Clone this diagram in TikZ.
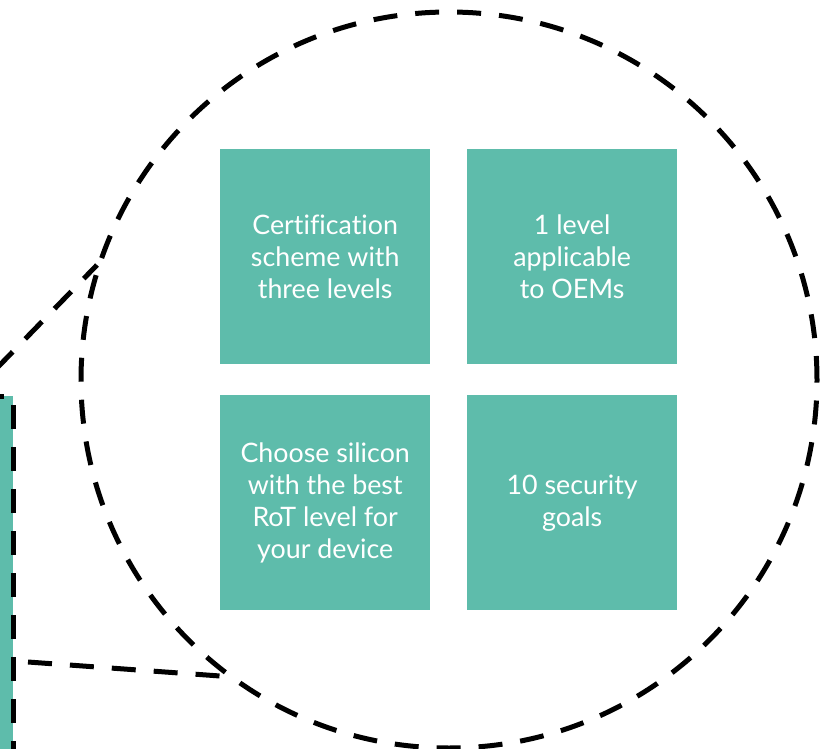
\documentclass[tikz,border=0pt]{standalone}
\usepackage{fontspec}
\setmainfont[Ligatures=NoCommon]{Lato}
\definecolor{tileteal}{HTML}{5EBCAB}
\tikzset{
  dashline/.style={line width=5pt, dash pattern=on 24pt off 18pt, draw=black},
  tile/.style={fill=tileteal, minimum width=210pt, minimum height=215pt,
    anchor=north west, text=white, align=center, inner sep=0pt,
    font=\fontsize{26.8}{32}\selectfont},
}
\begin{document}
\begin{tikzpicture}[x=1pt,y=-1pt]
\useasboundingbox (0,0) rectangle (833,749);

% zoomed source region at the left edge
\fill[tileteal] (-20,396) rectangle (13,770);
\draw[dashline] (-20,396) -- (13,396) -- (13,770);

% magnifier circle
\node[circle, dashline, minimum size=736pt, inner sep=0pt] (lens) at (449,380) {};

% connecting lines from the region to the lens
\coordinate (srcA) at (-4,369);
\coordinate (srcB) at (28,662);
\coordinate (lensA) at (97,265);
\coordinate (lensB) at (220,676);
\draw[dashline] (srcA) -- (lensA);
\draw[dashline] (srcB) -- (lensB);

% tiles
\node[tile] (t1) at (220,149) {Certification\\scheme with\\three levels};
\node[tile] (t2) at (467,149) {1 level\\applicable\\to OEMs};
\node[tile] (t3) at (220,395) {Choose silicon\\with the best\\RoT level for\\your device};
\node[tile] (t4) at (467,395) {10 security\\goals};
\end{tikzpicture}
\end{document}
